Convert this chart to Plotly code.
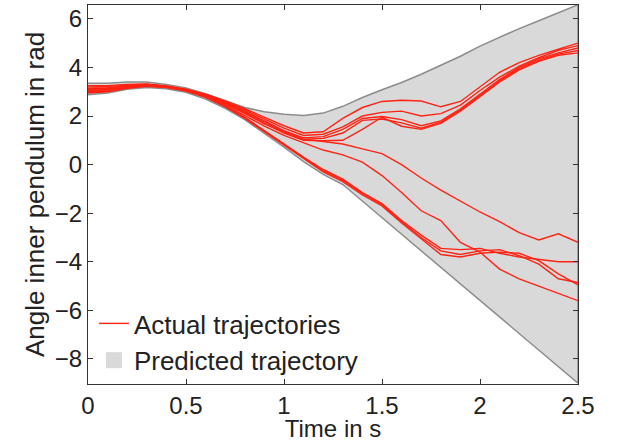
import plotly.graph_objects as go

# time grid (s)
t = [0.0, 0.1, 0.2, 0.3, 0.4, 0.5, 0.6, 0.7, 0.8, 0.9, 1.0, 1.1, 1.2,
     1.3, 1.4, 1.5, 1.6, 1.7, 1.8, 1.9, 2.0, 2.1, 2.2, 2.3, 2.4, 2.5]

# actual trajectories (rad)
traj_u1 = [3.25, 3.25, 3.30, 3.32, 3.24, 3.10, 2.90, 2.62, 2.30, 1.95, 1.60, 1.30, 1.35,
           1.90, 2.35, 2.60, 2.65, 2.62, 2.38, 2.60, 3.20, 3.80, 4.20, 4.50, 4.75, 5.00]
traj_u2 = [3.20, 3.22, 3.28, 3.30, 3.23, 3.09, 2.88, 2.59, 2.25, 1.88, 1.50, 1.20, 1.25,
           1.55, 2.00, 2.15, 2.20, 2.00, 2.10, 2.45, 3.05, 3.60, 4.05, 4.40, 4.70, 4.90]
traj_u3 = [3.15, 3.17, 3.25, 3.29, 3.22, 3.08, 2.86, 2.56, 2.20, 1.80, 1.40, 1.10, 1.15,
           1.45, 1.90, 1.98, 1.85, 1.60, 1.80, 2.30, 2.90, 3.50, 4.00, 4.35, 4.60, 4.80]
traj_u4 = [3.10, 3.13, 3.22, 3.28, 3.21, 3.07, 2.85, 2.54, 2.17, 1.75, 1.35, 1.05, 1.08,
           1.30, 1.82, 1.88, 1.72, 1.50, 1.75, 2.25, 2.85, 3.45, 3.95, 4.30, 4.55, 4.70]
traj_u5 = [3.05, 3.08, 3.20, 3.26, 3.20, 3.06, 2.84, 2.52, 2.14, 1.70, 1.30, 1.00, 0.98,
           1.00, 1.45, 1.95, 1.58, 1.45, 1.70, 2.20, 2.80, 3.40, 3.90, 4.25, 4.50, 4.60]
traj_l1 = [3.00, 3.05, 3.18, 3.25, 3.19, 3.05, 2.82, 2.50, 2.10, 1.68, 1.35, 1.05, 0.95,
           0.85, 0.65, 0.45, 0.00, -0.55, -1.05, -1.50, -1.95, -2.35, -2.80, -3.10, -2.85, -3.20]
traj_l5 = [2.98, 3.02, 3.15, 3.23, 3.18, 3.04, 2.80, 2.46, 2.02, 1.58, 1.20, 0.90, 0.60,
           0.40, 0.10, -0.45, -1.15, -1.90, -2.30, -3.20, -3.60, -4.30, -4.70, -5.00, -5.30, -5.60]
traj_l2 = [3.12, 3.15, 3.24, 3.30, 3.22, 3.06, 2.80, 2.42, 1.95, 1.40, 0.85, 0.30, -0.20,
           -0.60, -1.15, -1.60, -2.30, -2.90, -3.45, -3.50, -3.45, -3.65, -3.80, -3.90, -4.00, -4.00]
traj_l3 = [3.08, 3.10, 3.20, 3.27, 3.20, 3.05, 2.78, 2.40, 1.92, 1.37, 0.82, 0.27, -0.25,
           -0.65, -1.20, -1.65, -2.35, -3.00, -3.55, -3.70, -3.55, -3.50, -3.75, -4.10, -4.70, -4.85]
traj_l4 = [2.95, 3.00, 3.14, 3.22, 3.17, 3.03, 2.77, 2.38, 1.90, 1.35, 0.80, 0.25, -0.30,
           -0.70, -1.25, -1.70, -2.40, -3.05, -3.70, -3.80, -3.65, -3.60, -3.65, -3.95, -4.50, -4.95]
trajectories = [traj_u1, traj_u2, traj_u3, traj_u4, traj_u5,
                traj_l1, traj_l5, traj_l2, traj_l3, traj_l4]

# predicted trajectory band
band_upper = [3.35, 3.35, 3.40, 3.40, 3.30, 3.15, 2.92, 2.65, 2.35, 2.18, 2.07, 2.02, 2.12,
              2.40, 2.76, 3.08, 3.38, 3.72, 4.08, 4.46, 4.88, 5.24, 5.60, 5.92, 6.26, 6.58]
band_t_lower = [0.0, 0.1, 0.2, 0.3, 0.4, 0.5, 0.6, 0.7, 0.8, 0.9, 1.0, 1.1, 1.2, 1.3, 2.5]
band_lower = [2.88, 2.95, 3.10, 3.17, 3.12, 2.98, 2.70, 2.32, 1.85, 1.30, 0.72, 0.12, -0.40,
              -0.82, -9.0]

fig = go.Figure()

poly_x = t + band_t_lower[::-1]
poly_y = band_upper + band_lower[::-1]
fig.add_trace(go.Scatter(
    x=poly_x, y=poly_y, mode="lines", fill="toself",
    fillcolor="#d9d9d9", line=dict(color="#8c8c8c", width=1.5),
    showlegend=False, hoverinfo="skip"))

for i, tr in enumerate(trajectories):
    fig.add_trace(go.Scatter(
        x=t, y=tr, mode="lines",
        line=dict(color="#ff2314", width=1.4),
        name="Actual trajectories", showlegend=(i == 0), legendrank=1))

# legend entry for the band (gray square)
fig.add_trace(go.Scatter(
    x=[None], y=[None], mode="markers",
    marker=dict(symbol="square", size=28, color="#d9d9d9"),
    name="Predicted trajectory", legendrank=2))

FAM = "Liberation Sans, Arial, sans-serif"
tfont = dict(family=FAM, size=24, color="#222222")
lfont = dict(family=FAM, size=26, color="#222222")

fig.update_layout(
    width=619, height=442,
    margin=dict(l=88, r=41, t=5, b=58),
    paper_bgcolor="white", plot_bgcolor="white",
    font=dict(family=FAM, size=24, color="#222222"),
    showlegend=True,
    legend=dict(x=0.012, y=0.0, xanchor="left", yanchor="bottom",
                bgcolor="rgba(0,0,0,0)", font=lfont, tracegroupgap=0,
                itemwidth=30),
)
fig.update_xaxes(
    range=[0, 2.5], tickvals=[0, 0.5, 1, 1.5, 2, 2.5],
    ticktext=["0", "0.5", "1", "1.5", "2", "2.5"],
    ticks="inside", ticklen=5, tickcolor="#333", showgrid=False, zeroline=False,
    showline=True, linecolor="#333", linewidth=1.2, mirror="ticks",
    title=dict(text="Time in s", standoff=0,
               font=dict(family=FAM, size=24, color="#222222")),
    tickfont=tfont)
fig.update_yaxes(
    range=[-9.03, 6.57], tickvals=[-8, -6, -4, -2, 0, 2, 4, 6],
    ticks="inside", ticklen=5, tickcolor="#333", showgrid=False, zeroline=False,
    showline=True, linecolor="#333", linewidth=1.2, mirror="ticks",
    title=dict(text="Angle inner pendulum in rad", standoff=2,
               font=dict(family=FAM, size=26, color="#222222")),
    tickfont=tfont)

fig.write_html("out.html")
